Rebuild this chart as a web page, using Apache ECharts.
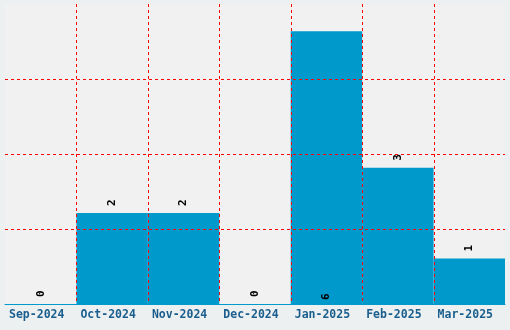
<!DOCTYPE html>
<html><head><meta charset="utf-8">
<script src="https://cdn.jsdelivr.net/npm/echarts@6/dist/echarts.min.js"></script>
<style>html,body{margin:0;padding:0;background:#ecf0f1;}#c{width:510px;height:330px;}</style>
</head><body><div id="c"></div>
<script>
var categories = ['Sep-2024','Oct-2024','Nov-2024','Dec-2024','Jan-2025','Feb-2025','Mar-2025'];
var values = [0, 2, 2, 0, 6, 3, 1];
var yGridValues = [1.65, 3.3, 4.95];
var chart = echarts.init(document.getElementById('c'));
var maxV = Math.max.apply(null, values);
var data = values.map(function(v){
  var d = {value: v};
  if (v === maxV) d.label = {position: 'insideBottom', distance: 4};
  return d;
});
var gridItems = [];
yGridValues.forEach(function(y){ gridItems.push([0, y]); });
for (var i = 1; i < categories.length; i++) gridItems.push([1, i]);
var lineStyle = {stroke: '#ff0000', lineWidth: 1, lineDash: [3, 3], fill: null};
chart.setOption({
  backgroundColor: '#ecf0f1',
  animation: false,
  grid: {left: 5, right: 5, top: 4, bottom: 26, backgroundColor: '#f1f1f1', show: true, borderWidth: 0},
  xAxis: {
    type: 'category', data: categories,
    axisLine: {show: true, lineStyle: {color: '#0099cc', width: 1}},
    axisTick: {show: false},
    axisLabel: {interval: 0, color: '#1a5e8e', fontFamily: 'DejaVu Sans Mono', fontWeight: 'bold', fontSize: 11.5, margin: 5, padding: [0, 8, 0, 0]},
    splitLine: {show: false}
  },
  yAxis: {
    type: 'value', min: 0, max: 6.6, interval: 1.65,
    axisLine: {show: false}, axisTick: {show: false}, axisLabel: {show: false},
    splitLine: {show: false}
  },
  series: [{
    type: 'bar', data: data, barCategoryGap: '0%', z: 1,
    itemStyle: {color: '#0099cc'},
    label: {show: true, position: 'top', rotate: 90, align: 'left', verticalAlign: 'middle', distance: 7, color: '#000', fontFamily: 'DejaVu Sans Mono', fontWeight: 'bold', fontSize: 11}
  }, {
    type: 'custom', z: 20, zlevel: 1, silent: true, clip: false,
    dimensions: ['kind', 'val'],
    data: gridItems,
    renderItem: function(params, api){
      var cs = params.coordSys;
      var kind = api.value(0);
      var v = api.value(1);
      var x1, y1, x2, y2;
      if (kind === 0) {
        var p = api.coord([0, v]);
        x1 = cs.x; x2 = cs.x + cs.width; y1 = y2 = Math.round(p[1]) + 0.5;
      } else {
        var a = api.coord([v - 1, 0])[0], b = api.coord([v, 0])[0];
        x1 = x2 = Math.round((a + b) / 2) + 0.5; y1 = cs.y; y2 = cs.y + cs.height;
      }
      return {type: 'line', z2: 50, shape: {x1: x1, y1: y1, x2: x2, y2: y2}, style: lineStyle};
    }
  }]
});
</script></body></html>
